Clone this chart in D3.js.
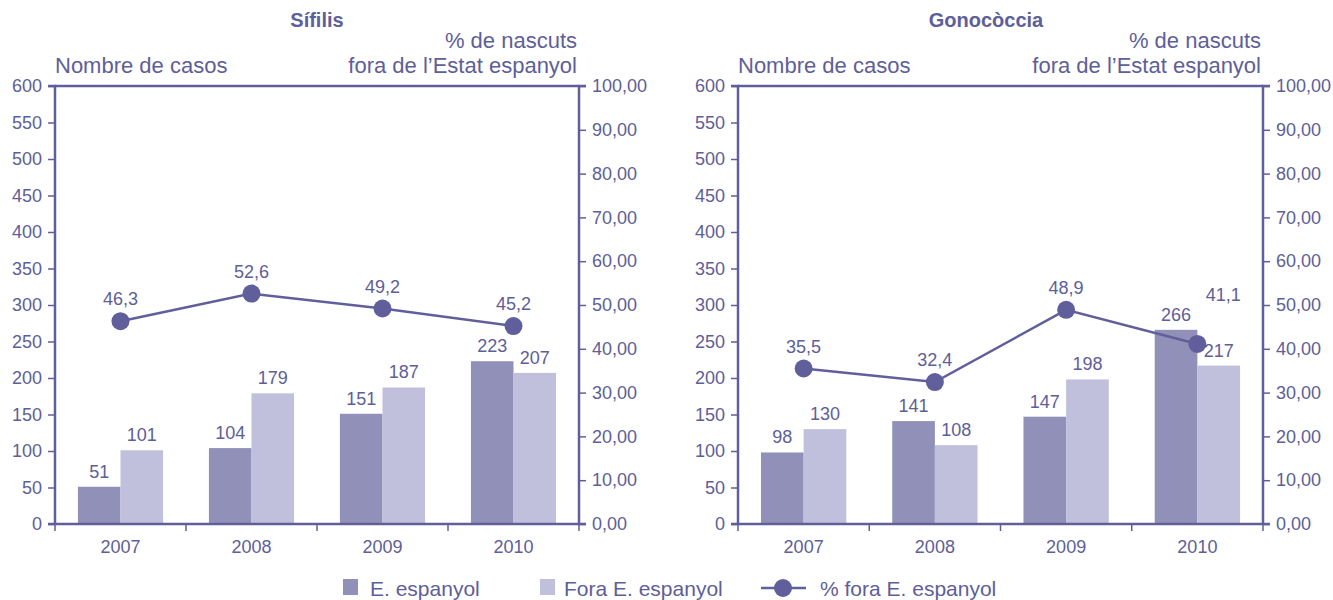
<!DOCTYPE html>
<html><head><meta charset="utf-8">
<script src="https://cdn.jsdelivr.net/npm/d3@7"></script>
<style>
body{margin:0;background:#fff;}
text{font-family:"Liberation Sans",Arial,sans-serif;fill:#5e5e99;}
</style></head>
<body><svg id="c" width="1333" height="600"></svg>
<script>
const years = ["2007","2008","2009","2010"];
const sifilisEsp = [51,104,151,223];
const sifilisFora = [101,179,187,207];
const sifilisPct = [46.3,52.6,49.2,45.2];
const gonoEsp = [98,141,147,266];
const gonoFora = [130,108,198,217];
const gonoPct = [35.5,32.4,48.9,41.1];
const leftTicks = [0,50,100,150,200,250,300,350,400,450,500,550,600];
const rightTicks = [0,10,20,30,40,50,60,70,80,90,100];
const legendLabels = ["E. espanyol","Fora E. espanyol","% fora E. espanyol"];

const C = {axis:"#605f9b", dark:"#9190b9", light:"#c0c0dc", line:"#605f9b"};
const svg = d3.select("#c");
const fmt = v => v.toFixed(1).replace(".",",");
const fmt2 = v => v.toFixed(2).replace(".",",");

function panel(x0, x1, title, titleX, esp, fora, pct, pctLabelShift){
  const top=86, bottom=524;
  const g = svg.append("g");
  const x = d3.scaleBand().domain(years).range([x0,x1]).paddingInner(0.35).paddingOuter(0.175);
  const xb = d3.scaleBand().domain(years).range([x0,x1]);
  const y = d3.scaleLinear().domain([0,600]).range([bottom,top]);
  const y2 = d3.scaleLinear().domain([0,100]).range([bottom,top]);
  const sub = d3.scaleBand().domain([0,1]).range([0,x.bandwidth()]);

  // bars
  years.forEach((yr,i)=>{
    [[esp[i],C.dark,0],[fora[i],C.light,1]].forEach(([v,col,k])=>{
      g.append("rect").attr("x",x(yr)+sub(k)).attr("width",sub.bandwidth())
        .attr("y",y(v)).attr("height",y(0)-y(v)).attr("fill",col);
      g.append("text").attr("x",x(yr)+sub(k)+sub.bandwidth()/2).attr("y",y(v)-9)
        .attr("text-anchor","middle").attr("font-size",18).text(v);
    });
  });

  // axes
  const ax = d3.axisLeft(y).tickValues(leftTicks).tickSize(7).tickPadding(6);
  const gl = g.append("g").attr("transform",`translate(${x0},0)`).call(ax);
  const ar = d3.axisRight(y2).tickValues(rightTicks).tickSize(7).tickPadding(6).tickFormat(fmt2);
  const gr = g.append("g").attr("transform",`translate(${x1},0)`).call(ar);
  const ab = d3.axisBottom(xb).tickSize(0).tickPadding(16);
  const gb = g.append("g").attr("transform",`translate(0,${bottom})`).call(ab);
  [gl,gr,gb].forEach(a=>{
    a.selectAll("path").attr("stroke",C.axis).attr("stroke-width",2.5);
    a.selectAll("line").attr("stroke",C.axis).attr("stroke-width",1.5);
    a.selectAll("text").attr("font-size",18).attr("fill","#5e5e99").attr("font-family",null);
  });
  gl.select("path").attr("d",`M-7,${top}H0V${bottom}H-7`);
  gr.select("path").attr("d",`M7,${top}H0V${bottom}H7`);
  gb.select("path").attr("d",`M${x0},0H${x1}`);
  // top border
  g.append("line").attr("x1",x0).attr("x2",x1).attr("y1",top).attr("y2",top).attr("stroke",C.axis).attr("stroke-width",2.5);
  // category ticks
  g.selectAll(".ct").data(years.map(d=>xb(d)).concat([x1])).enter().append("line")
    .attr("x1",d=>d).attr("x2",d=>d).attr("y1",bottom).attr("y2",bottom+7)
    .attr("stroke",C.axis).attr("stroke-width",1.5);

  // line
  const line = d3.line().x((d,i)=>xb(years[i])+xb.bandwidth()/2).y(d=>y2(d));
  g.append("path").datum(pct).attr("d",line).attr("fill","none").attr("stroke",C.line).attr("stroke-width",2.5);
  pct.forEach((v,i)=>{
    const cx = xb(years[i])+xb.bandwidth()/2;
    g.append("circle").attr("cx",cx).attr("cy",y2(v)).attr("r",9).attr("fill",C.line);
    const s = pctLabelShift[i];
    g.append("text").attr("x",cx+s[0]).attr("y",y2(v)-16+s[1]).attr("text-anchor","middle").attr("font-size",18).text(fmt(v));
  });

  // titles
  g.append("text").attr("x",titleX).attr("y",27).attr("text-anchor","middle").attr("font-size",20).attr("font-weight","bold").text(title);
  g.append("text").attr("x",x0).attr("y",73).attr("font-size",22).text("Nombre de casos");
  g.append("text").attr("x",x1-2).attr("y",48).attr("text-anchor","end").attr("font-size",22).text("% de nascuts");
  g.append("text").attr("x",x1-2).attr("y",73).attr("text-anchor","end").attr("font-size",22).text("fora de l\u2019Estat espanyol");
}

panel(55,579,"Sífilis",317,sifilisEsp,sifilisFora,sifilisPct,[[0,0],[0,0],[0,0],[0,0]]);
panel(738,1263,"Gonocòccia",986,gonoEsp,gonoFora,gonoPct,[[0,0],[0,0],[0,0],[26,-27]]);

// legend
const lg = svg.append("g");
lg.append("rect").attr("x",343).attr("y",579).attr("width",15).attr("height",16).attr("fill",C.dark);
lg.append("text").attr("x",370).attr("y",596).attr("font-size",21).text(legendLabels[0]);
lg.append("rect").attr("x",540).attr("y",579).attr("width",15).attr("height",16).attr("fill",C.light);
lg.append("text").attr("x",564).attr("y",596).attr("font-size",21).text(legendLabels[1]);
lg.append("line").attr("x1",761).attr("x2",806).attr("y1",588).attr("y2",588).attr("stroke",C.line).attr("stroke-width",2.5);
lg.append("circle").attr("cx",783).attr("cy",588).attr("r",9).attr("fill",C.line);
lg.append("text").attr("x",820).attr("y",596).attr("font-size",21).text(legendLabels[2]);
</script></body></html>
